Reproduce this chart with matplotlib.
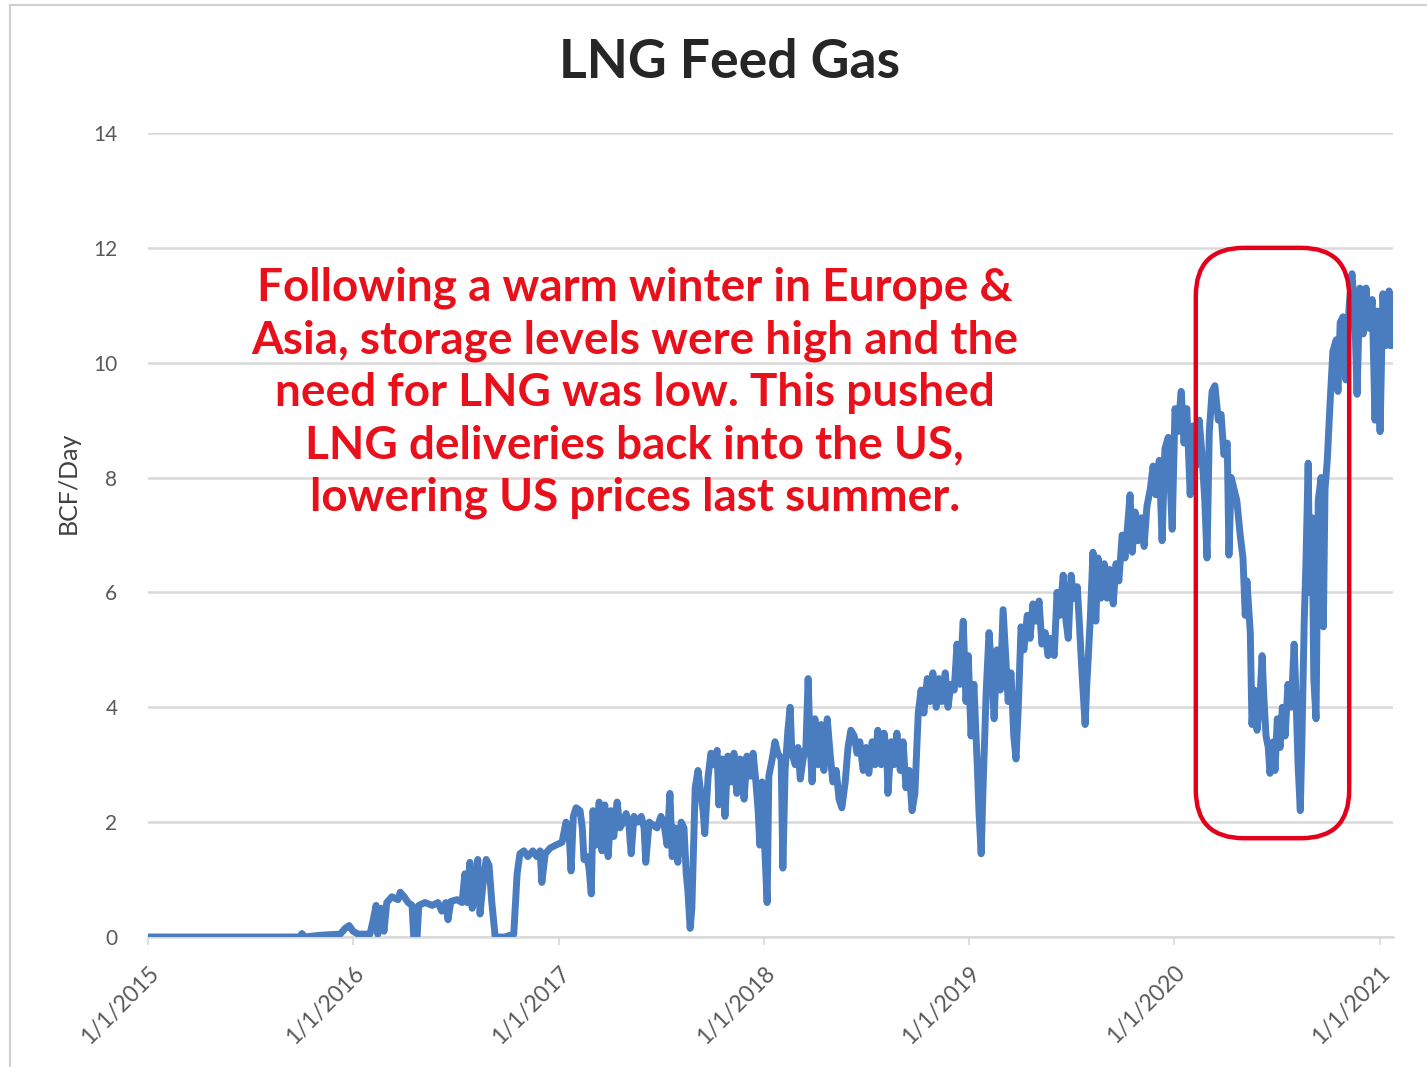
import matplotlib
matplotlib.use("Agg")
import matplotlib.pyplot as plt
import pandas as pd
from matplotlib.patches import FancyBboxPatch
from matplotlib.lines import Line2D
from matplotlib.transforms import IdentityTransform

# ---------------- data ----------------
start_date = "2015-01-01"
# days since start_date
days = [
    0, 271, 274, 279, 306, 342, 351, 358, 365, 374, 395, 401, 406, 409, 415, 420,
    425, 434, 445, 449, 456, 463, 470, 473, 479, 482, 493, 506, 516, 523, 530, 534,
    539, 550, 559, 564, 568, 573, 577, 582, 587, 591, 596, 602, 607, 612, 618, 635,
    651, 657, 662, 669, 676, 685, 692, 698, 701, 707, 716, 726, 737, 744, 749, 753,
    757, 762, 769, 773, 776, 781, 785, 789, 792, 797, 803, 808, 813, 819, 824, 829,
    835, 840, 846, 851, 856, 860, 865, 872, 878, 883, 886, 892, 899, 906, 913, 918,
    924, 929, 933, 938, 943, 949, 954, 958, 961, 965, 968, 974, 979, 984, 988, 991,
    997, 1002, 1007, 1013, 1016, 1022, 1027, 1032, 1038, 1043, 1048, 1054, 1061, 1066,
    1072, 1077, 1082, 1086, 1089, 1093, 1098, 1102, 1105, 1111, 1116, 1121, 1127, 1130,
    1134, 1139, 1143, 1146, 1152, 1157, 1161, 1166, 1171, 1175, 1178, 1182, 1187, 1193,
    1198, 1203, 1209, 1214, 1219, 1225, 1230, 1235, 1241, 1246, 1251, 1257, 1262, 1267,
    1273, 1278, 1283, 1289, 1294, 1299, 1305, 1310, 1315, 1317, 1323, 1328, 1333, 1339,
    1344, 1349, 1355, 1360, 1365, 1371, 1376, 1381, 1387, 1392, 1397, 1403, 1408, 1413,
    1419, 1424, 1429, 1435, 1440, 1445, 1451, 1456, 1460, 1465, 1470, 1476, 1479, 1483,
    1486, 1492, 1497, 1502, 1506, 1511, 1517, 1522, 1527, 1531, 1536, 1541, 1545, 1549,
    1554, 1559, 1565, 1570, 1575, 1581, 1586, 1591, 1597, 1602, 1607, 1613, 1618, 1623,
    1629, 1634, 1638, 1643, 1648, 1654, 1657, 1663, 1668, 1671, 1677, 1682, 1687, 1691,
    1696, 1702, 1707, 1712, 1718, 1723, 1728, 1734, 1739, 1744, 1748, 1752, 1757, 1762,
    1768, 1773, 1778, 1784, 1789, 1794, 1800, 1805, 1810, 1816, 1819, 1823, 1828, 1833,
    1839, 1844, 1849, 1855, 1860, 1865, 1871, 1876, 1881, 1885, 1889, 1894, 1899, 1905,
    1910, 1915, 1921, 1924, 1928, 1933, 1938, 1944, 1949, 1953, 1956, 1962, 1965, 1969,
    1974, 1979, 1983, 1986, 1990, 1994, 1997, 2003, 2006, 2010, 2015, 2019, 2024, 2029,
    2035, 2040, 2043, 2047, 2051, 2054, 2058, 2061, 2065, 2068, 2072, 2075, 2079, 2083,
    2088, 2092, 2095, 2099, 2104, 2109, 2115, 2118, 2122, 2127, 2132, 2138, 2143, 2148,
    2152, 2157, 2163, 2168, 2173, 2179, 2184, 2188, 2193, 2198, 2204, 2209, 2214,
]
feed_gas = [
    0.0, 0.0, 0.06, 0.0, 0.03, 0.05, 0.15, 0.2, 0.1, 0.05, 0.05, 0.3, 0.55, 0.05, 0.5, 0.1,
    0.6, 0.7, 0.65, 0.78, 0.7, 0.6, 0.55, 0.0, 0.0, 0.55, 0.6, 0.55, 0.6, 0.45, 0.6, 0.3,
    0.62, 0.65, 0.6, 1.1, 0.6, 1.3, 0.5, 0.7, 1.35, 0.4, 0.9, 1.35, 1.25, 0.6, 0.0, 0.0,
    0.05, 1.1, 1.45, 1.5, 1.4, 1.5, 1.4, 1.5, 0.95, 1.45, 1.55, 1.6, 1.65, 2.0, 1.9, 1.15,
    2.1, 2.25, 2.2, 1.9, 1.35, 1.4, 1.2, 0.75, 2.2, 1.6, 2.35, 1.5, 2.3, 1.4, 2.2, 1.75,
    2.35, 1.9, 2.0, 2.15, 1.95, 1.45, 2.1, 2.0, 2.1, 1.9, 1.3, 2.0, 1.95, 1.9, 2.1, 2.0,
    1.6, 2.5, 1.4, 1.9, 1.3, 2.0, 1.9, 1.1, 0.8, 0.15, 0.5, 2.6, 2.9, 2.5, 2.2, 1.8,
    2.8, 3.2, 3.0, 3.25, 2.3, 3.1, 2.1, 3.15, 2.7, 3.2, 2.5, 3.1, 2.4, 3.15,
    2.8, 3.2, 2.7, 2.2, 1.6, 2.7, 1.5, 0.6, 2.8, 3.1, 3.4, 3.2, 3.1, 1.2,
    2.9, 3.6, 4.0, 3.2, 3.0, 3.3, 2.75, 3.1, 3.3, 4.5, 3.5, 2.7, 3.8, 3.0,
    3.7, 2.9, 3.8, 3.2, 2.7, 2.9, 2.4, 2.25, 2.7, 3.3, 3.6, 3.5, 3.2, 3.4,
    2.9, 3.3, 2.85, 3.4, 3.0, 3.6, 3.0, 3.55, 3.2, 2.5, 3.4, 3.0, 3.55, 2.9,
    3.4, 2.6, 2.9, 2.2, 2.5, 3.9, 4.3, 3.9, 4.5, 4.1, 4.6, 4.0, 4.5, 4.1,
    4.6, 4.0, 4.4, 4.3, 5.1, 4.4, 5.5, 4.1, 4.9, 3.5, 4.4, 3.0, 2.2, 1.45,
    2.5, 4.3, 5.3, 4.6, 3.8, 5.0, 4.3, 5.7, 4.8, 4.1, 4.6, 3.5, 3.1, 4.0,
    5.4, 5.0, 5.6, 5.2, 5.8, 5.5, 5.85, 5.1, 5.3, 4.9, 5.2, 4.9, 6.0, 5.6,
    6.3, 5.5, 5.2, 6.3, 5.9, 6.1, 5.6, 4.5, 3.7, 4.4, 5.5, 6.7, 5.5, 6.6,
    5.9, 6.5, 5.9, 6.4, 5.8, 6.5, 6.2, 7.0, 6.6, 7.2, 7.7, 6.7, 7.4, 6.9,
    7.3, 6.8, 7.5, 7.8, 8.2, 7.7, 8.3, 6.9, 8.5, 8.7, 8.0, 7.1, 9.2, 8.8,
    9.5, 8.6, 9.2, 7.7, 8.9, 8.2, 9.0, 8.4, 7.6, 6.6, 8.8, 9.5, 9.6, 9.0,
    9.1, 8.4, 8.6, 6.65, 8.0, 7.8, 7.6, 7.0, 6.6, 5.6, 6.2, 5.3, 3.7, 4.3,
    3.6, 4.1, 4.9, 4.2, 3.5, 3.3, 2.85, 3.4, 2.9, 3.8, 3.3, 4.0, 3.5, 4.4,
    4.0, 5.1, 4.3, 3.0, 2.2, 3.5, 5.5, 6.5, 8.25, 6.0, 7.3, 4.5, 3.8, 7.6,
    8.0, 5.4, 7.8, 8.3, 9.3, 10.2, 10.4, 9.5, 10.7, 10.8, 9.7, 11.0, 11.55, 10.8,
    9.45, 11.3, 10.5, 11.3, 10.6, 11.1, 9.0, 10.9, 8.8, 11.2, 10.3, 11.25, 10.3,
]

title = "LNG Feed Gas"
y_label = "BCF/Day"
y_ticks = [0, 2, 4, 6, 8, 10, 12, 14]
x_tick_dates = ["2015-01-01", "2016-01-01", "2017-01-01", "2018-01-01",
                "2019-01-01", "2020-01-01", "2021-01-01"]
x_tick_labels = ["1/1/2015", "1/1/2016", "1/1/2017", "1/1/2018",
                 "1/1/2019", "1/1/2020", "1/1/2021"]
x_end = "2021-01-25"
note = ("Following a warm winter in Europe &\n"
        "Asia, storage levels were high and the\n"
        "need for LNG was low. This pushed\n"
        "LNG deliveries back into the US,\n"
        "lowering US prices last summer.")
box_start, box_end = "2020-02-09", "2020-11-08"
box_low, box_high = 1.72, 12.0

# ---------------- plot ----------------
plt.rcParams["font.family"] = ["Lato", "DejaVu Sans"]
W, H = 1427, 1067
fig = plt.figure(figsize=(W / 100, H / 100), dpi=100)
fig.patch.set_facecolor("white")

ax = fig.add_axes([148 / W, 1 - 937 / H, (1393 - 148) / W, (937 - 133) / H])
dates = pd.Timestamp(start_date) + pd.to_timedelta(days, unit="D")
ax.plot(dates, feed_gas, color="#4A7CC0", lw=5.0, solid_joinstyle="round", zorder=3)

ax.set_xlim(pd.Timestamp(start_date), pd.Timestamp(x_end))
ax.set_ylim(0, 14)
ax.set_yticks(y_ticks)
ax.set_yticklabels([str(t) for t in y_ticks], fontsize=15, color="#595959")
ax.yaxis.grid(True, color="#D9D9D9", lw=1.8)
ax.set_axisbelow(True)
ax.tick_params(axis="y", length=0, pad=22)
ax.set_xticks(pd.to_datetime(x_tick_dates))
ax.set_xticklabels(x_tick_labels, rotation=45, ha="right", rotation_mode="anchor",
                   fontsize=16.5, color="#595959")
ax.tick_params(axis="x", length=6, width=1.2, color="#D9D9D9", pad=12)
for s in ["top", "right", "left"]:
    ax.spines[s].set_visible(False)
ax.spines["bottom"].set_color("#D9D9D9")
ax.spines["bottom"].set_linewidth(1.8)

fig.text(68 / W, 1 - 483 / H, y_label, rotation=90, ha="center", va="center",
         fontsize=18, color="#404040")
fig.text(730 / W, 1 - 63 / H, title, ha="center", va="center",
         fontsize=38.5, fontweight="bold", color="#262626")

ax.text(0.391, 0.677, note, transform=ax.transAxes, ha="center", va="center",
        fontsize=33, fontweight="bold", color="#E8101A", linespacing=1.3, zorder=4)

# rounded box around 2020 dip
fig.canvas.draw()
(x0, y0) = ax.transData.transform((matplotlib.dates.date2num(pd.Timestamp(box_start)), box_low))
(x1, y1) = ax.transData.transform((matplotlib.dates.date2num(pd.Timestamp(box_end)), box_high))
box = FancyBboxPatch((x0, y0), x1 - x0, y1 - y0,
                     boxstyle="round,pad=0,rounding_size=48",
                     transform=IdentityTransform(), fill=False,
                     edgecolor="#E3001B", lw=3.2, zorder=5)
fig.add_artist(box)

# outer frame lines (left and top)
fig.add_artist(Line2D([10 / W, 10 / W], [0, 1 - 5 / H], color="#D0D0D0", lw=1.5))
fig.add_artist(Line2D([10 / W, 1], [1 - 5 / H, 1 - 5 / H], color="#D0D0D0", lw=1.5))

fig.savefig("out.png", dpi=100, facecolor="white")
